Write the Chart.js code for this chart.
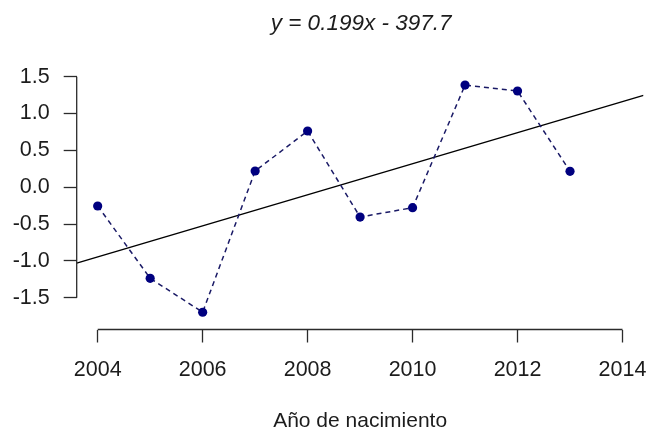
<!DOCTYPE html>
<html>
<head>
<meta charset="utf-8">
<script src="https://cdn.jsdelivr.net/npm/chart.js@4.4.1/dist/chart.umd.min.js"></script>
<style>
  html, body { margin: 0; padding: 0; background: #ffffff; }
  #wrap { width: 649px; height: 435px; }
</style>
</head>
<body>
<div id="wrap"><canvas id="c" width="649" height="435"></canvas></div>
<script>
// Birth-year series and its linear trend
const years = [2004, 2005, 2006, 2007, 2008, 2009, 2010, 2011, 2012, 2013];
const values = [-0.255, -1.237, -1.698, 0.22, 0.763, -0.405, -0.278, 1.387, 1.306, 0.216];

const xTicks = [2004, 2006, 2008, 2010, 2012, 2014];
const yTicks = [-1.5, -1.0, -0.5, 0.0, 0.5, 1.0, 1.5];
const yTickLabels = ['-1.5', '-1.0', '-0.5', '0.0', '0.5', '1.0', '1.5'];

const xRange = [2003.6, 2014.4];
const yRange = [-1.932, 1.632];

const titleText = 'y = 0.199x - 397.7';
const xTitle = 'Año de nacimiento';

// least-squares fit of the series, drawn across the full plot width
function fitLine(xs, ys) {
  const n = xs.length;
  const mx = xs.reduce((a, b) => a + b, 0) / n;
  const my = ys.reduce((a, b) => a + b, 0) / n;
  let sxy = 0, sxx = 0;
  for (let i = 0; i < n; i++) {
    sxy += (xs[i] - mx) * (ys[i] - my);
    sxx += (xs[i] - mx) * (xs[i] - mx);
  }
  const b = sxy / sxx;
  return { slope: b, intercept: my - b * mx };
}
const fit = fitLine(years, values);
const trend = xRange.map(x => ({ x: x, y: fit.intercept + fit.slope * x }));

const FONT = '"Liberation Sans", Arial, sans-serif';
const INK = '#1c1c1c';
const AXIS = '#2b2b2b';

// axis lines that run only between the outer ticks, plus the plot title
const axesPlugin = {
  id: 'axesPlugin',
  afterDraw(chart) {
    const { ctx, chartArea, scales } = chart;
    const xs = scales.x, ys = scales.y;
    ctx.save();
    ctx.strokeStyle = AXIS;
    ctx.lineWidth = 1.3;
    ctx.beginPath();
    const xl = chartArea.left;
    ctx.moveTo(xl, ys.getPixelForValue(yTicks[yTicks.length - 1]));
    ctx.lineTo(xl, ys.getPixelForValue(yTicks[0]));
    const yb = chartArea.bottom;
    ctx.moveTo(xs.getPixelForValue(xTicks[0]), yb);
    ctx.lineTo(xs.getPixelForValue(xTicks[xTicks.length - 1]), yb);
    ctx.stroke();

    ctx.fillStyle = INK;
    ctx.font = 'italic 22.5px ' + FONT;
    ctx.textAlign = 'center';
    ctx.textBaseline = 'middle';
    ctx.fillText(titleText, (chartArea.left + chartArea.right) / 2 + 1, 24);
    ctx.restore();
  }
};

new Chart(document.getElementById('c'), {
  type: 'scatter',
  data: {
    datasets: [
      {
        data: years.map((y, i) => ({ x: y, y: values[i] })),
        showLine: true,
        borderColor: '#1a1a66',
        borderWidth: 1.5,
        borderDash: [5, 4],
        pointRadius: 4.6,
        pointBorderWidth: 0,
        pointBackgroundColor: '#00007f',
        pointHoverRadius: 4.6,
        order: 0
      },
      {
        data: trend,
        showLine: true,
        borderColor: '#000000',
        borderWidth: 1.4,
        pointRadius: 0,
        pointHoverRadius: 0,
        order: 1
      }
    ]
  },
  options: {
    responsive: false,
    animation: false,
    events: [],
    layout: { padding: { top: 67, right: 5.5, bottom: 0, left: 0 } },
    plugins: {
      legend: { display: false },
      title: { display: false },
      tooltip: { enabled: false }
    },
    scales: {
      x: {
        type: 'linear',
        min: xRange[0],
        max: xRange[1],
        border: { display: false },
        grid: {
          display: true,
          drawOnChartArea: false,
          drawTicks: true,
          tickLength: 13,
          tickWidth: 1.3,
          tickColor: AXIS
        },
        afterBuildTicks(scale) { scale.ticks = xTicks.map(v => ({ value: v })); },
        afterFit(scale) {
          scale.height = 105.5;
          scale.paddingLeft = 0;
          scale.paddingRight = 0;
        },
        ticks: {
          padding: 15,
          maxRotation: 0,
          autoSkip: false,
          color: INK,
          font: { family: FONT, size: 21.5 },
          callback: (v) => String(v)
        },
        title: {
          display: true,
          text: xTitle,
          color: INK,
          font: { family: FONT, size: 21, lineHeight: 1.2 },
          padding: { top: 0, bottom: 1 }
        }
      },
      y: {
        type: 'linear',
        min: yRange[0],
        max: yRange[1],
        border: { display: false },
        grid: {
          display: true,
          drawOnChartArea: false,
          drawTicks: true,
          tickLength: 13,
          tickWidth: 1.3,
          tickColor: AXIS
        },
        afterBuildTicks(scale) { scale.ticks = yTicks.map(v => ({ value: v })); },
        afterFit(scale) {
          scale.width = 76.7;
          scale.paddingTop = 0;
          scale.paddingBottom = 0;
        },
        ticks: {
          padding: 14,
          autoSkip: false,
          color: INK,
          font: { family: FONT, size: 21.5 },
          callback: (v) => {
            const i = yTicks.indexOf(v);
            return i >= 0 ? yTickLabels[i] : '';
          }
        }
      }
    }
  },
  plugins: [axesPlugin]
});
</script>
</body>
</html>
